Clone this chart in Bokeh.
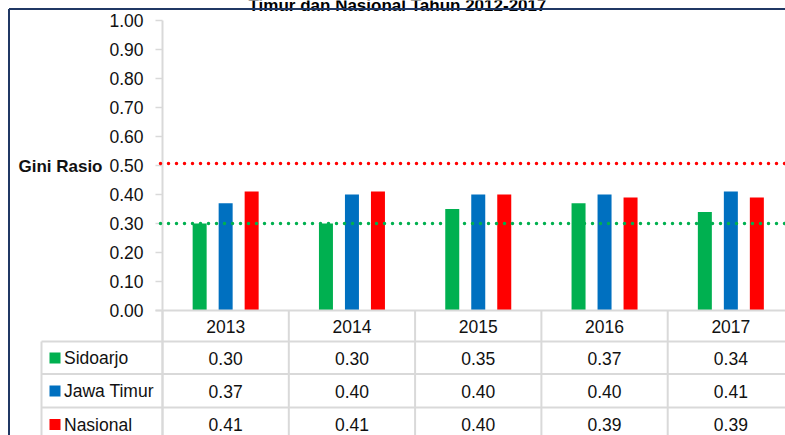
from bokeh.plotting import figure
from bokeh.models import Range1d
from bokeh.embed import file_html
from bokeh.resources import INLINE
from bokeh.core.properties import value

# ---------------- data ----------------
years = ["2013", "2014", "2015", "2016", "2017"]
sidoarjo = [0.30, 0.30, 0.35, 0.37, 0.34]
jawa_timur = [0.37, 0.40, 0.40, 0.40, 0.41]
nasional = [0.41, 0.41, 0.40, 0.39, 0.39]
series_names = ["Sidoarjo", "Jawa Timur", "Nasional"]
series_colors = ["#00b050", "#0070c0", "#ff0000"]
y_ticks = [0.0, 0.1, 0.2, 0.3, 0.4, 0.5, 0.6, 0.7, 0.8, 0.9, 1.0]
y_tick_labels = ["0.00", "0.10", "0.20", "0.30", "0.40", "0.50",
                 "0.60", "0.70", "0.80", "0.90", "1.00"]
red_ref = 0.507
green_ref = 0.30
title_text = "Timur dan Nasional Tahun 2012-2017"
axis_title = "Gini Rasio"

# ---------------- layout helpers (pixel -> data) ----------------
W, H = 785, 435
PX, PY = 126.3, 290.0       # pixels per category, pixels per 1.0
X0, Y0 = 162.0, 310.0       # pixel position of category origin / value 0


def xd(px):
    return (px - X0) / PX


def yd(py):
    return (Y0 - py) / PY


FONT = value("Liberation Sans")
FS = "17.5px"
GRID = "#d9d9d9"
NAVY = "#203864"
TXT = "#111111"

p = figure(width=W, height=H,
           x_range=Range1d(xd(0), xd(W)), y_range=Range1d(yd(H), yd(0)),
           min_border=0, x_axis_location=None, y_axis_location=None,
           toolbar_location=None, output_backend="svg")
p.outline_line_color = None
p.grid.visible = False

# ---------------- frame border + title ----------------
p.text(x=[xd(397)], y=[yd(5)], text=[title_text], text_font=FONT,
       text_font_size="17px", text_font_style="bold", text_color="#000000",
       text_align="center", text_baseline="alphabetic")
p.segment(x0=[xd(8.5)], y0=[yd(8.5)], x1=[xd(W)], y1=[yd(8.5)],
          line_color=NAVY, line_width=2)
p.segment(x0=[xd(8.5)], y0=[yd(8.5)], x1=[xd(8.5)], y1=[yd(H)],
          line_color=NAVY, line_width=2)

# ---------------- y axis ----------------
p.segment(x0=[0], y0=[1.0], x1=[0], y1=[yd(H)], line_color=GRID, line_width=2)
p.segment(x0=[xd(155)] * len(y_ticks), y0=y_ticks,
          x1=[0] * len(y_ticks), y1=y_ticks, line_color=GRID, line_width=1.5)
p.text(x=[xd(143)] * len(y_ticks), y=y_ticks, text=y_tick_labels,
       text_font=FONT, text_font_size=FS, text_color=TXT,
       text_align="right", text_baseline="middle")
p.text(x=[xd(102)], y=[0.497], text=[axis_title], text_font=FONT,
       text_font_size="17px", text_font_style="bold", text_color=TXT,
       text_align="right", text_baseline="middle")

# ---------------- bars ----------------
n = len(years)
centers = [i + 0.5 for i in range(n)]
offsets = [-26 / PX, 0.0, 26 / PX]
bar_w = 14 / PX
for vals, off, col in zip([sidoarjo, jawa_timur, nasional], offsets, series_colors):
    p.vbar(x=[c + off for c in centers], top=vals, bottom=0, width=bar_w,
           fill_color=col, line_color=None)

# ---------------- reference lines ----------------
p.line([xd(160), xd(W)], [red_ref, red_ref], line_color="#ff0000",
       line_width=3.5, line_dash="0 8", line_cap="round")
p.line([xd(160), xd(W)], [green_ref, green_ref], line_color="#00b050",
       line_width=3.5, line_dash="0 8", line_cap="round")

# ---------------- data table ----------------
p.segment(x0=[xd(155)], y0=[0], x1=[xd(W)], y1=[0], line_color=GRID, line_width=2)
p.segment(x0=list(range(n + 1)), y0=[0] * (n + 1), x1=list(range(n + 1)),
          y1=[yd(H)] * (n + 1), line_color=GRID, line_width=2)
row_lines = [yd(341), yd(373.5), yd(407)]
p.segment(x0=[xd(41)] * 3, y0=row_lines, x1=[xd(W)] * 3, y1=row_lines,
          line_color=GRID, line_width=2)
p.segment(x0=[xd(41)], y0=[yd(341)], x1=[xd(41)], y1=[yd(H)],
          line_color=GRID, line_width=2)

p.text(x=centers, y=[yd(325.5)] * n, text=years, text_font=FONT,
       text_font_size=FS, text_color=TXT,
       text_align="center", text_baseline="middle")

row_y = [yd(357.5), yd(390.5), yd(424)]
for vals, name, col, ry in zip([sidoarjo, jawa_timur, nasional],
                               series_names, series_colors, row_y):
    p.scatter(x=[xd(54.5)], y=[ry], marker="square", size=11,
              fill_color=col, line_color=None)
    p.text(x=[xd(63.5)], y=[ry], text=[name], text_font=FONT,
           text_font_size=FS, text_color=TXT,
           text_align="left", text_baseline="middle")
    p.text(x=centers, y=[ry] * n, text=["%.2f" % v for v in vals],
           text_font=FONT, text_font_size=FS, text_color=TXT,
           text_align="center", text_baseline="middle")

open("out.html", "w").write(file_html(p, INLINE))
